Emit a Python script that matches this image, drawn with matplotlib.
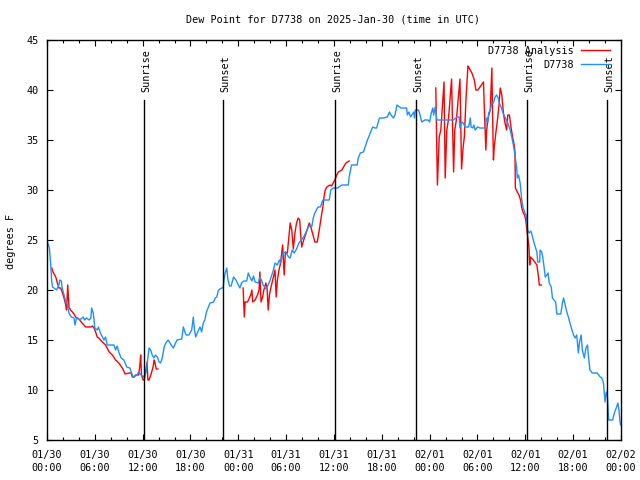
import matplotlib
matplotlib.use("Agg")
import matplotlib.pyplot as plt
import matplotlib.dates as mdates
import numpy as np
import pandas as pd

plt.rcParams['font.family'] = ['DejaVu Sans Mono']
plt.rcParams['font.size'] = 7.3

# hours since 2025-01-30 00:00 UTC, dew point in F
obs_hours = [0.1, 0.3, 0.45, 0.6, 0.7, 1.2, 1.5, 1.6, 1.8, 1.9, 2.2, 2.35, 2.55, 2.75, 3.05, 3.4, 3.5, 3.7,
             4.1, 4.4, 4.55, 4.7, 4.95, 5.3, 5.5, 5.6, 5.8, 5.9, 6.0, 6.3, 6.45, 6.7, 6.95, 7.15, 7.35, 7.55,
             8.0, 8.4, 8.6, 8.8, 9.0, 9.3, 9.65, 10.0, 10.4, 10.6, 10.8, 11.3, 11.5, 11.8, 12.1, 12.4, 12.55,
             12.8, 13.0, 13.2, 13.4, 13.6, 13.85, 14.05, 14.25, 14.45, 14.7, 14.9, 15.2, 15.5, 15.85, 16.3,
             16.9, 17.1, 17.3, 17.45, 17.8, 18.15, 18.35, 18.5, 18.65, 18.9, 19.2, 19.4, 19.6, 19.8, 20.0,
             20.25, 20.45, 20.9, 21.1, 21.3, 21.5, 21.9, 22.1, 22.2, 22.35, 22.55, 22.7, 22.9, 23.1, 23.4,
             23.7, 24.0, 24.2, 24.4, 24.7, 25.05, 25.25, 25.45, 25.7, 25.9, 26.1, 26.5, 26.7, 26.9, 27.1,
             27.5, 27.75, 28.0, 28.4, 28.6, 28.9, 29.15, 29.3, 29.65, 30.0, 30.3, 30.5, 30.75, 31.0, 31.3,
             31.6, 32.2, 32.5, 32.8, 33.0, 33.2, 33.4, 33.6, 34.0, 34.3, 34.6, 35.4, 35.6, 35.9, 36.5, 36.6,
             37.0, 37.8, 37.9, 38.2, 38.9, 39.05, 39.3, 39.7, 39.9, 40.2, 40.45, 40.6, 40.85, 41.15, 41.35,
             41.7, 42.2, 42.7, 42.95, 43.15, 43.45, 43.65, 43.9, 44.4, 45.1, 45.2, 45.4, 45.6, 46.0, 46.1,
             46.2, 46.6, 46.8, 47.0, 47.4, 47.8, 48.0, 48.2, 48.4, 48.5, 48.7, 48.9, 51.0, 51.4, 51.7, 51.8,
             52.0, 52.2, 52.45, 52.9, 53.1, 53.2, 53.4, 53.55, 53.7, 54.0, 54.3, 55.0, 55.1, 55.3, 55.4,
             55.6, 55.8, 56.0, 56.2, 56.4, 56.6, 56.75, 57.0, 57.2, 57.5, 57.8, 58.1, 58.3, 58.5, 58.7,
             58.9, 59.0, 59.15, 59.35, 59.55, 59.7, 59.95, 60.1, 60.2, 60.3, 60.45, 60.7, 60.9, 61.1, 61.45,
             61.55, 61.8, 61.85, 62.05, 62.2, 62.35, 62.5, 62.7, 62.85, 63.0, 63.25, 63.4, 63.6, 63.8,
             63.95, 64.45, 64.65, 64.8, 65.0, 65.2, 65.4, 65.6, 65.85, 66.05, 66.25, 66.45, 66.65, 66.8,
             67.0, 67.15, 67.4, 67.6, 67.8, 67.9, 68.1, 68.4, 69.0, 69.4, 69.6, 69.8, 69.9, 70.0, 70.15,
             70.3, 70.45, 70.95, 71.2, 71.45, 71.6, 71.75, 71.85, 71.95]
obs_dewpt = [24.7, 24.2, 22.7, 20.8, 20.3, 20.0, 20.5, 21.0, 20.9, 20.2, 19.3, 18.8, 18.5, 17.7, 17.3, 17.2, 16.5, 17.2,
             17.0, 17.2, 17.3, 17.0, 17.2, 17.0, 17.2, 18.2, 17.7, 17.0, 16.2, 16.0, 16.3, 15.7, 15.3, 15.0, 15.3, 14.5,
             14.5, 14.5, 14.0, 14.4, 13.8, 13.2, 13.0, 12.3, 12.2, 11.7, 11.3, 11.5, 11.8, 11.5, 11.3, 11.7, 12.5,
             14.2, 14.0, 13.5, 13.2, 13.5, 13.3, 12.8, 12.7, 13.2, 14.3, 14.7, 15.0, 14.6, 14.2, 15.0,
             15.1, 16.3, 15.8, 15.5, 15.5, 16.0, 17.3, 16.0, 15.3, 15.8, 16.3, 15.8, 16.7, 17.0, 17.8,
             18.3, 18.7, 18.8, 19.2, 19.3, 20.0, 20.2, 20.2, 21.0, 21.7, 22.2, 21.0, 20.4, 20.4, 21.3,
             21.0, 20.5, 20.2, 20.7, 20.9, 20.9, 21.7, 21.3, 20.9, 21.4, 20.8, 20.7, 21.3, 21.0, 20.5,
             20.1, 20.5, 21.0, 22.0, 22.7, 22.5, 23.0, 22.7, 23.8, 23.7, 23.3, 23.2, 24.0, 23.7, 24.1,
             24.7, 25.3, 25.8, 26.3, 26.5, 26.3, 27.2, 27.7, 28.3, 28.3, 29.0, 29.0, 30.0, 30.2, 30.2, 30.3,
             30.5, 30.5, 31.3, 32.5, 32.5, 33.2, 33.7, 33.8, 34.3, 35.0, 35.5, 35.8, 36.3, 36.2, 36.2,
             37.2, 37.2, 37.3, 37.8, 37.5, 37.2, 37.5, 38.5, 38.2, 38.2, 37.5, 37.8, 37.3, 37.8, 37.2,
             38.0, 38.0, 37.5, 36.8, 37.0, 37.0, 36.8, 37.7, 38.2, 37.5, 38.3, 37.0, 37.0, 37.3, 37.3, 36.2,
             36.8, 36.7, 36.3, 36.3, 37.2, 36.3, 36.2, 36.5, 36.0, 36.3, 36.2, 36.2, 37.2, 36.8, 37.7,
             38.0, 38.8, 38.7, 39.3, 39.5, 39.2, 38.7, 38.2, 37.7, 37.2, 36.7, 36.0, 35.3, 34.5, 33.5,
             32.3, 31.2, 31.5, 30.7, 29.0, 28.3, 27.7, 27.5, 26.8, 26.0, 25.7, 25.9, 25.3, 24.7, 23.8,
             22.8, 22.8, 24.0, 23.8, 23.2, 22.3, 21.3, 21.5, 21.7, 20.7, 20.3, 19.2, 19.0, 18.8,
             17.6, 17.6, 18.7, 19.2, 18.5, 17.8, 17.3, 16.7, 16.0, 15.5, 15.2, 15.5, 13.7, 14.8,
             15.5, 14.0, 13.2, 14.2, 14.5, 13.5, 12.0, 11.7, 11.7, 11.3, 11.2, 10.7, 9.7, 8.8, 9.8,
             9.3, 7.0, 7.0, 7.8, 8.3, 8.7, 8.0, 7.0, 6.5]

# analysis comes in three pieces with gaps between them
ana1_hours = [0.6, 0.75, 1.1, 1.3, 1.5, 1.7, 1.9, 2.1, 2.35, 2.45, 2.6, 2.75, 2.95, 3.3, 3.6, 4.0, 4.4, 4.85,
              5.5, 5.7, 5.9, 6.1, 6.3, 6.5, 6.95, 7.35, 7.8, 8.2, 8.6, 9.0, 9.45, 9.8, 10.3, 10.55, 10.7,
              10.95, 11.1, 11.5, 11.65, 11.75, 11.85, 12.05, 12.2, 12.4, 12.55, 12.65, 12.8, 13.1, 13.3,
              13.45, 13.55, 13.7, 13.9]
ana1_dewpt = [22.2, 21.8, 21.3, 20.7, 20.2, 20.2, 19.8, 19.3, 18.5, 18.0, 20.5, 18.3, 18.0, 17.7, 17.3, 17.1, 16.7, 16.3,
              16.3, 16.4, 16.2, 15.8, 15.3, 15.2, 14.8, 14.5, 13.8, 13.5, 13.0, 12.7, 12.2, 11.6, 11.7, 11.7, 11.3,
              11.3, 11.5, 11.5, 12.5, 13.5, 11.5, 11.0, 11.0, 12.0, 12.8, 11.0, 11.0, 11.7, 12.3,
              13.0, 12.7, 12.1, 12.1]
ana2_hours = [24.6, 24.75, 24.85, 25.15, 25.55, 25.7, 25.8, 26.1, 26.4, 26.6, 26.7, 26.85, 27.05, 27.2, 27.45,
              27.6, 27.75, 27.9, 28.1, 28.4, 28.6, 28.75, 28.9, 29.1, 29.3, 29.55, 29.75, 29.9, 30.15, 30.4,
              30.5, 30.7, 30.9, 31.1, 31.3, 31.5, 31.7, 31.8, 31.95, 32.2, 32.5, 32.9, 33.1, 33.3, 33.6,
              33.9, 34.15, 34.4, 34.6, 34.75, 34.9, 35.1, 35.5, 35.7, 35.9, 36.1, 36.35, 36.55, 37.0, 37.2,
              37.5, 37.9]
ana2_dewpt = [20.2, 17.3, 18.8, 18.8, 19.5, 20.0, 18.8, 19.0, 19.5, 20.0, 21.8, 18.8, 19.3, 20.0, 20.7,
              20.2, 18.0, 19.5, 20.3, 21.3, 22.0, 19.3, 21.0, 22.0, 22.7, 24.5, 21.5, 23.8, 23.7, 25.8,
              26.7, 26.0, 24.1, 25.7, 26.7, 27.2, 27.0, 25.7, 24.3, 25.0, 25.7, 26.7, 26.3, 25.7, 24.8,
              24.8, 26.0, 27.3, 28.3, 29.3, 30.0, 30.3, 30.5, 30.4, 30.7, 31.0, 31.5, 31.8, 32.0, 32.3,
              32.7, 32.9]
ana3_hours = [48.77, 48.97, 49.2, 49.4, 49.8, 49.95, 50.15, 50.35, 50.75, 51.0, 51.15, 51.35, 51.8, 52.0, 52.2,
              52.35, 52.55, 52.8, 52.95, 53.3, 53.6, 53.8, 54.05, 54.75, 54.9, 55.05, 55.15, 55.35, 55.6,
              55.8, 55.9, 56.0, 56.1, 56.3, 56.5, 56.7, 56.85, 57.05, 57.25, 57.45, 57.65, 57.8, 58.0,
              58.2, 58.4, 58.6, 58.7, 58.75, 59.0, 59.2, 59.4, 59.55, 59.75, 59.9, 60.05, 60.3, 60.45,
              60.55, 60.65, 61.0, 61.45, 61.65, 61.75, 62.0]
ana3_dewpt = [40.2, 30.5, 35.3, 36.0, 40.8, 31.2, 36.0, 37.0, 41.1, 31.8, 36.0, 37.0, 41.1, 32.1, 34.3,
              35.3, 39.0, 42.4, 42.2, 41.7, 41.0, 40.0, 40.0, 40.8, 37.2, 34.0, 36.0, 37.3, 38.0,
              42.2, 37.2, 33.0, 34.3, 35.7, 37.0, 38.5, 40.2, 39.5, 37.7, 36.7, 36.0, 37.5, 37.5,
              36.3, 35.3, 34.5, 33.8, 30.2, 29.8, 29.5, 29.0, 28.2, 27.7, 27.5, 27.0, 25.3, 24.3,
              22.5, 23.3, 23.0, 22.5, 21.3, 20.5, 20.5]

sun_hours = [12.2, 22.08, 36.17, 46.26, 60.26, 70.3]
sun_labels = ["Sunrise", "Sunset", "Sunrise", "Sunset", "Sunrise", "Sunset"]

base = pd.Timestamp("2025-01-30 00:00")


def to_time(hours):
    return base + pd.to_timedelta(np.array(hours), unit="h")


fig = plt.figure(figsize=(6.4, 4.8), dpi=100)
ax = fig.add_axes([47 / 640, 40 / 480, 574 / 640, 400 / 480])

red = "#ff0000"
blue = "#1e90ff"
first = True
for hrs, vals in [(ana1_hours, ana1_dewpt), (ana2_hours, ana2_dewpt), (ana3_hours, ana3_dewpt)]:
    ax.plot(to_time(hrs), vals, color=red, lw=1.0, label="D7738 Analysis" if first else None)
    first = False
ax.plot(to_time(obs_hours), obs_dewpt, color=blue, lw=1.0, label="D7738")

for h, lab in zip(sun_hours, sun_labels):
    t = to_time([h])[0]
    ax.plot([t, t], [5, 39], color="black", lw=1.0)
    ax.text(t + pd.Timedelta(minutes=18), 39.75, lab, rotation=90, ha="center", va="bottom")

ax.set_xlim(base, base + pd.Timedelta(hours=72))
ax.set_ylim(5, 45)
ax.set_yticks(range(5, 46, 5))
ax.xaxis.set_major_locator(mdates.HourLocator(byhour=[0, 6, 12, 18]))
ax.xaxis.set_minor_locator(mdates.HourLocator(byhour=range(0, 24, 2)))
ax.xaxis.set_major_formatter(mdates.DateFormatter("%m/%d\n%H:%M"))
ax.tick_params(which="both", direction="in", top=True, right=True, width=0.8)
ax.tick_params(which="major", length=4.5)
ax.tick_params(which="minor", length=2.3)
ax.tick_params(axis="y", pad=6)
ax.tick_params(axis="x", pad=7)
for lab in ax.get_xticklabels():
    lab.set_linespacing(1.45)
for s in ax.spines.values():
    s.set_linewidth(1.0)

ax.legend(loc="upper right", bbox_to_anchor=(0.981, 0.985), frameon=False, markerfirst=False,
          borderpad=0, borderaxespad=0, handlelength=2.9, handletextpad=0.7, labelspacing=0.35)

fig.text(333 / 640, 1 - 19 / 480, "Dew Point for D7738 on 2025-Jan-30 (time in UTC)", ha="center", va="center")
fig.text(11 / 640, 0.496, "degrees F", rotation=90, ha="center", va="center")

fig.savefig("out.png", dpi=100)
